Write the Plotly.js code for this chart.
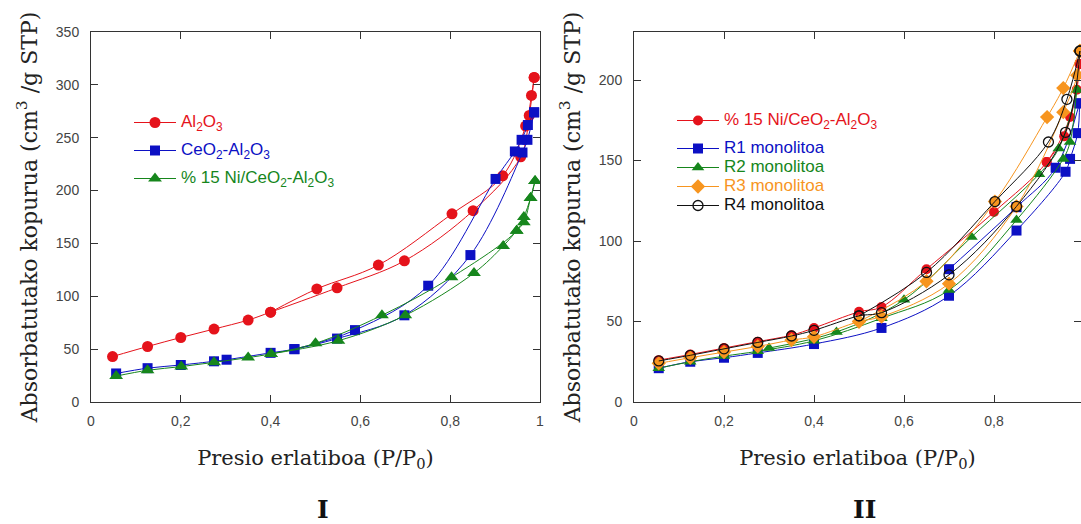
<!DOCTYPE html>
<html>
<head>
<meta charset="utf-8">
<script src="https://cdn.plot.ly/plotly-3.0.1.min.js"></script>
<style>html,body{margin:0;padding:0;background:#fff;}#chart{width:1081px;height:524px;}</style>
</head>
<body>
<div id="chart"></div>
<script>
// ---------- Panel I data ----------
const al2o3AdsX = [0.048,0.126,0.2,0.274,0.35,0.4,0.548,0.698,0.851,0.957,0.976,0.987];
const al2o3AdsY = [43,52.5,61,69,77.5,85,108,133.5,181,232,271,307];
const al2o3DesX = [0.987,0.981,0.968,0.917,0.804,0.64,0.503,0.4];
const al2o3DesY = [307,290,261,214,178,129.5,107,85];

const ceoAdsX = [0.056,0.126,0.2,0.274,0.302,0.4,0.453,0.548,0.698,0.845,0.961,0.972,0.987];
const ceoAdsY = [27,32,35,38.5,40,46.5,50,60,82,139,236,248,274];
const ceoDesX = [0.987,0.973,0.959,0.944,0.901,0.751,0.588,0.453];
const ceoDesY = [274,262,248,237,211,110,68,50];

const niAdsX = [0.056,0.126,0.201,0.274,0.35,0.401,0.551,0.7,0.853,0.918,0.948,0.964,0.979,0.989];
const niAdsY = [24.5,30,33.5,37.5,42,45.5,58,82,122,147.5,162,170,193,209];
const niDesX = [0.989,0.979,0.964,0.948,0.803,0.648,0.5,0.401];
const niDesY = [209,193,175,162,118,82,55.5,45.5];

// ---------- Panel II data ----------
const niRAdsX = [0.055,0.125,0.2,0.275,0.35,0.4,0.5,0.55,0.65,0.8,0.917,0.969,0.99];
const niRAdsY = [26,29.5,33.5,37.5,41.5,46,56,59,82.5,118,149,177,210];
const niRDesX = [0.99,0.984,0.956,0.917];
const niRDesY = [210,194,165,149];

const r1AdsX = [0.055,0.125,0.2,0.275,0.4,0.55,0.7,0.85,0.959,0.969,0.986,0.99];
const r1AdsY = [21,25,27.5,30.5,36,46,66,106.5,143,151,167,185.5];
const r1DesX = [0.99,0.937,0.85,0.7];
const r1DesY = [185.5,145.5,121,82.5];

const r2AdsX = [0.055,0.125,0.2,0.275,0.4,0.55,0.7,0.85,0.954,0.969,0.984];
const r2AdsY = [21,25,28.5,31.5,38,52,69.5,113,151,161.5,194];
const r2DesX = [0.984,0.944,0.9,0.75,0.6,0.45,0.3];
const r2DesY = [194,157.5,141.5,102.5,63.5,43.5,33.5];

const r3AdsX = [0.055,0.125,0.2,0.275,0.35,0.4,0.5,0.55,0.7,0.85,0.954,0.985,0.991];
const r3AdsY = [24,27.5,31,34.5,38.5,40.5,50,53,73.5,121.5,180,203,218];
const r3DesX = [0.991,0.954,0.918,0.802,0.65,0.5];
const r3DesY = [218,195,177,124.5,75,50];

const r4AdsX = [0.055,0.125,0.2,0.275,0.35,0.4,0.5,0.55,0.7,0.85,0.959,0.991];
const r4AdsY = [25.5,29,33,37,41,44.5,53.5,55.5,79,121.5,167.5,218];
const r4DesX = [0.991,0.962,0.921,0.802,0.65,0.5];
const r4DesY = [218,188,161.5,124.5,80.5,53.5];

const xTicks = [0,0.2,0.4,0.6,0.8,1];
const yTicksI = [0,50,100,150,200,250,300,350];
const yTicksII = [0,50,100,150,200];

// ---------- styling ----------
const RED='#e5131b', BLUE='#0c10c4', GREEN='#16861c', ORANGE='#f7951f', BLACK='#111111';

function lbl(html,color){return '<span style="color:'+color+';font-size:17px">'+html+'</span>';}
const sub = s => '<sub>'+s+'</sub>';

function series(adsX,adsY,desX,desY,name,color,symbol,size,xa,ya,leg,group,extra){
  const m = Object.assign({color:color,size:size,symbol:symbol,line:{width:0}},extra||{});
  return {
    type:'scatter', mode:'lines+markers',
    x: adsX.concat([null], desX), y: adsY.concat([null], desY),
    connectgaps:false,
    name:name, legend:leg, legendgroup:group,
    xaxis:xa, yaxis:ya,
    line:{color:color,width:1,shape:'spline',smoothing:1},
    marker:m, hoverinfo:'x+y+name'
  };
}

const data = [
  series(al2o3AdsX,al2o3AdsY,al2o3DesX,al2o3DesY, lbl('Al'+sub('2')+'O'+sub('3'),RED), RED,'circle',11,'x','y','legend','a'),
  series(ceoAdsX,ceoAdsY,ceoDesX,ceoDesY, lbl('CeO'+sub('2')+'-Al'+sub('2')+'O'+sub('3'),BLUE), BLUE,'square',10,'x','y','legend','b'),
  series(niAdsX,niAdsY,niDesX,niDesY, lbl('% 15 Ni/CeO'+sub('2')+'-Al'+sub('2')+'O'+sub('3'),GREEN), GREEN,'triangle-up',12,'x','y','legend','c'),

  series(niRAdsX,niRAdsY,niRDesX,niRDesY, lbl('% 15 Ni/CeO'+sub('2')+'-Al'+sub('2')+'O'+sub('3'),RED), RED,'circle',10,'x2','y2','legend2','d'),
  series(r1AdsX,r1AdsY,r1DesX,r1DesY, lbl('R1 monolitoa',BLUE), BLUE,'square',10,'x2','y2','legend2','e'),
  series(r2AdsX,r2AdsY,r2DesX,r2DesY, lbl('R2 monolitoa',GREEN), GREEN,'triangle-up',11,'x2','y2','legend2','e'),
  series(r3AdsX,r3AdsY,r3DesX,r3DesY, lbl('R3 monolitoa',ORANGE), ORANGE,'diamond',11,'x2','y2','legend2','e'),
  series(r4AdsX,r4AdsY,r4DesX,r4DesY, lbl('R4 monolitoa',BLACK), BLACK,'circle-open',10,'x2','y2','legend2','e',{line:{width:1.3,color:BLACK}})
];

const tickFont = {family:'Liberation Sans, Arial, sans-serif', size:14, color:'#444'};
const titleFont = {family:'DejaVu Serif, serif', size:21, color:'#222'};
const ytitleFont = {family:'DejaVu Serif, serif', size:22, color:'#222'};

function xaxisCfg(domain, range, anchor){
  return {domain:domain, range:range, anchor:anchor, tickvals:xTicks, ticks:'inside', ticklen:7,
    tickcolor:'#333', showline:true, linecolor:'#333', linewidth:1, mirror:'ticks',
    showgrid:false, zeroline:false, tickfont:tickFont, ticklabelstandoff:6,
    title:{text:'Presio erlatiboa (P/P'+sub('0')+')', font:titleFont, standoff:22}};
}
function yaxisCfg(domain, range, ticks, anchor){
  return {domain:domain, range:range, anchor:anchor, tickvals:ticks, ticks:'inside', ticklen:7,
    tickcolor:'#333', showline:true, linecolor:'#333', linewidth:1, mirror:'ticks',
    showgrid:false, zeroline:false, tickfont:tickFont, ticklabelstandoff:8,
    title:{text:'Absorbatutako kopurua (cm'+'<sup>3</sup>'+' /g STP)', font:ytitleFont, standoff:12}};
}

const W=1081, H=524;
const yDom = [(H-402)/H, (H-32)/H];

const layout = {
  width:W, height:H,
  margin:{l:0,r:0,t:0,b:0},
  paper_bgcolor:'#fff', plot_bgcolor:'#fff',
  separators:', ',
  showlegend:true,
  xaxis: xaxisCfg([91/W, 540/W],[0,1],'y'),
  yaxis: yaxisCfg(yDom,[0,350],yTicksI,'x'),
  xaxis2: xaxisCfg([634/W, 1],[0,(W-634)/450],'y2'),
  yaxis2: yaxisCfg(yDom,[0,(402-32)/1.61],yTicksII,'x2'),
  legend:{x:129/W, y:1-108/H, xanchor:'left', yanchor:'top', bgcolor:'rgba(0,0,0,0)', borderwidth:0,
    font:{family:'Liberation Sans, Arial, sans-serif', size:12}, itemwidth:42, traceorder:'grouped', tracegroupgap:9},
  legend2:{x:672/W, y:1-106/H, xanchor:'left', yanchor:'top', bgcolor:'rgba(0,0,0,0)', borderwidth:0,
    font:{family:'Liberation Sans, Arial, sans-serif', size:12}, itemwidth:42, traceorder:'grouped', tracegroupgap:9},
  annotations:[
    {text:'<b>I</b>', xref:'paper', yref:'paper', x:315/W, y:1-509/H, yanchor:'middle', showarrow:false,
     font:{family:'DejaVu Serif, serif', size:25, color:'#111'}},
    {text:'<b>II</b>', xref:'paper', yref:'paper', x:878/W, y:1-509/H, yanchor:'middle', showarrow:false,
     font:{family:'DejaVu Serif, serif', size:25, color:'#111'}}
  ]
};

Plotly.newPlot('chart', data, layout, {displayModeBar:false, staticPlot:true});
</script>
</body>
</html>
